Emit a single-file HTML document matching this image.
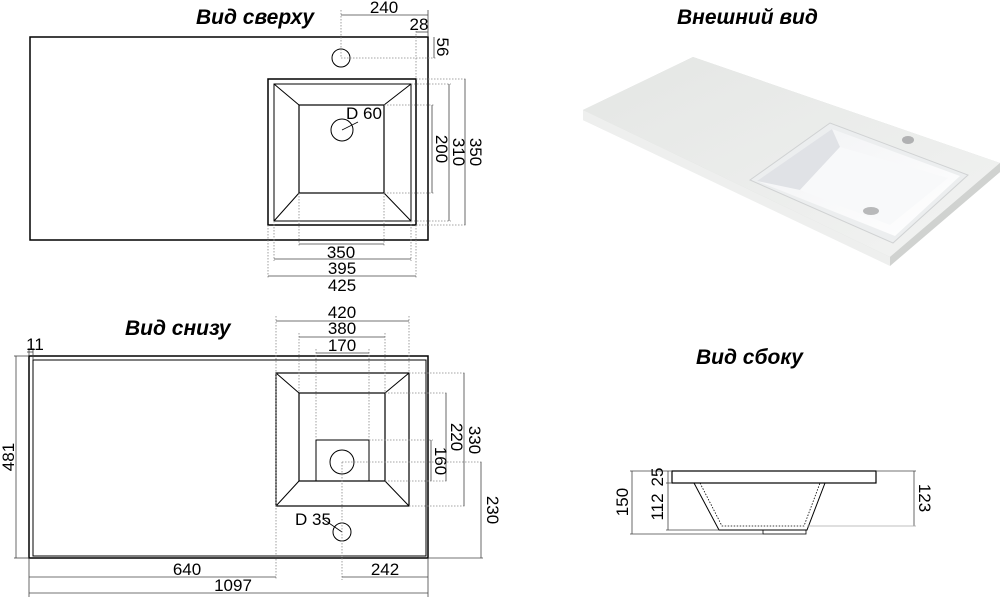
<!DOCTYPE html>
<html><head><meta charset="utf-8"><style>
html,body{margin:0;padding:0;background:#fff;}
svg{display:block;}
text{font-family:"Liberation Sans",sans-serif;fill:#000;}
.t{font-weight:bold;font-style:italic;font-size:21px;}
.d{font-size:17px;}
</style></head><body>
<svg width="1000" height="598" viewBox="0 0 1000 598" xmlns="http://www.w3.org/2000/svg">
<defs>
<linearGradient id="slab" x1="0" y1="0" x2="1" y2="1"><stop offset="0" stop-color="#e4e6e4"/><stop offset="1" stop-color="#f2f3f2"/></linearGradient>
<linearGradient id="bowl" x1="0" y1="0" x2="1" y2="1"><stop offset="0" stop-color="#f1f2f4"/><stop offset="1" stop-color="#ffffff"/></linearGradient>
</defs>
<text class="t" x="196" y="24">Вид сверху</text>
<text class="t" x="677" y="24">Внешний вид</text>
<text class="t" x="125" y="335">Вид снизу</text>
<text class="t" x="696" y="364">Вид сбоку</text>

<g stroke="#000" fill="none">
<rect x="30" y="37" width="398" height="203" stroke-width="1.5"/>
<rect x="268" y="79" width="148" height="146" stroke-width="1.5"/>
<rect x="274" y="84" width="137" height="137" stroke-width="1"/>
<rect x="299" y="105" width="85" height="88" stroke-width="1.2"/>
<line x1="274" y1="84" x2="299" y2="105"/><line x1="411" y1="84" x2="384" y2="105"/>
<line x1="274" y1="221" x2="299" y2="193"/><line x1="411" y1="221" x2="384" y2="193"/>
<circle cx="341" cy="58" r="9" stroke-width="1"/>
<circle cx="342" cy="130" r="11" stroke-width="1"/>
<line x1="342" y1="130" x2="358" y2="122" stroke-width="0.8"/>
</g>
<g stroke="#888" stroke-width="0.8" fill="none" stroke-dasharray="1.5,1.5">
<line x1="341" y1="10" x2="341" y2="58"/><line x1="341" y1="58" x2="436" y2="58"/>
<line x1="416" y1="28" x2="416" y2="79"/>
<line x1="384" y1="105" x2="434" y2="105"/><line x1="384" y1="193" x2="434" y2="193"/>
<line x1="411" y1="84" x2="451" y2="84"/><line x1="411" y1="221" x2="451" y2="221"/>
<line x1="416" y1="79" x2="467" y2="79"/><line x1="416" y1="225" x2="467" y2="225"/>
<line x1="299" y1="193" x2="299" y2="246"/><line x1="384" y1="193" x2="384" y2="246"/>
<line x1="274" y1="221" x2="274" y2="261"/><line x1="411" y1="221" x2="411" y2="261"/>
<line x1="268" y1="225" x2="268" y2="278"/><line x1="416" y1="225" x2="416" y2="278"/>
</g>
<g stroke="#444" stroke-width="0.8" fill="none">
<line x1="341" y1="15" x2="428" y2="15"/><line x1="428" y1="10" x2="428" y2="37"/>
<line x1="416" y1="32" x2="428" y2="32"/>
<line x1="434" y1="37" x2="434" y2="58"/>
<line x1="432" y1="105" x2="432" y2="193"/>
<line x1="449" y1="84" x2="449" y2="221"/>
<line x1="465" y1="79" x2="465" y2="225"/>
<line x1="299" y1="244" x2="384" y2="244"/>
<line x1="274" y1="259" x2="411" y2="259"/>
<line x1="268" y1="276" x2="416" y2="276"/>
</g>
<text class="d" x="384" y="13" text-anchor="middle">240</text>
<text class="d" x="419" y="30" text-anchor="middle">28</text>
<text class="d" x="346" y="119">D 60</text>
<text class="d" x="341" y="258" text-anchor="middle">350</text>
<text class="d" x="342" y="274" text-anchor="middle">395</text>
<text class="d" x="342" y="291" text-anchor="middle">425</text>
<text class="d" transform="translate(437,47) rotate(90)" text-anchor="middle">56</text>
<text class="d" transform="translate(436,149) rotate(90)" text-anchor="middle">200</text>
<text class="d" transform="translate(453,152) rotate(90)" text-anchor="middle">310</text>
<text class="d" transform="translate(470,152) rotate(90)" text-anchor="middle">350</text>

<g stroke="#000" fill="none">
<rect x="29" y="356" width="399" height="202" stroke-width="1.5"/>
<rect x="33" y="360" width="393" height="196" stroke-width="1"/>
<rect x="276" y="373" width="133" height="133" stroke-width="1.2"/>
<rect x="299" y="393" width="86" height="88" stroke-width="1.2"/>
<line x1="276" y1="373" x2="299" y2="393"/><line x1="409" y1="373" x2="385" y2="393"/>
<line x1="276" y1="506" x2="299" y2="481"/><line x1="409" y1="506" x2="385" y2="481"/>
<rect x="316" y="440" width="53" height="41" stroke-width="1"/>
<circle cx="342" cy="462" r="12" stroke-width="1"/>
<circle cx="342" cy="532" r="9" stroke-width="1"/>
<line x1="323" y1="519" x2="342" y2="532" stroke-width="0.8"/>
</g>
<g stroke="#888" stroke-width="0.8" fill="none" stroke-dasharray="1.5,1.5">
<line x1="276" y1="316" x2="276" y2="580"/><line x1="409" y1="316" x2="409" y2="373"/>
<line x1="299" y1="333" x2="299" y2="393"/><line x1="385" y1="333" x2="385" y2="393"/>
<line x1="316" y1="349" x2="316" y2="440"/><line x1="369" y1="349" x2="369" y2="440"/>
<line x1="409" y1="373" x2="466" y2="373"/><line x1="409" y1="506" x2="466" y2="506"/>
<line x1="385" y1="393" x2="448" y2="393"/><line x1="385" y1="481" x2="448" y2="481"/>
<line x1="369" y1="440" x2="433" y2="440"/>
<line x1="342" y1="462" x2="483" y2="462"/><line x1="342" y1="462" x2="342" y2="580"/>
</g>
<g stroke="#444" stroke-width="0.8" fill="none">
<line x1="276" y1="321" x2="409" y2="321"/>
<line x1="299" y1="337" x2="385" y2="337"/>
<line x1="316" y1="353" x2="369" y2="353"/>
<line x1="464" y1="373" x2="464" y2="506"/>
<line x1="446" y1="393" x2="446" y2="481"/>
<line x1="431" y1="440" x2="431" y2="481"/>
<line x1="481" y1="462" x2="481" y2="558"/><line x1="428" y1="558" x2="483" y2="558"/>
<line x1="29" y1="577" x2="276" y2="577"/>
<line x1="342" y1="577" x2="428" y2="577"/>
<line x1="29" y1="593" x2="428" y2="593"/>
<line x1="29" y1="558" x2="29" y2="597"/><line x1="428" y1="558" x2="428" y2="597"/>
<line x1="16" y1="356" x2="16" y2="558"/><line x1="14" y1="356" x2="29" y2="356"/><line x1="14" y1="558" x2="29" y2="558"/>
<line x1="27" y1="352" x2="33" y2="352"/><line x1="29" y1="348" x2="29" y2="356"/><line x1="33" y1="348" x2="33" y2="360"/>
</g>
<text class="d" x="342" y="318" text-anchor="middle">420</text>
<text class="d" x="342" y="334" text-anchor="middle">380</text>
<text class="d" x="342" y="351" text-anchor="middle">170</text>
<text class="d" x="295" y="525">D 35</text>
<text class="d" x="187" y="575" text-anchor="middle">640</text>
<text class="d" x="385" y="575" text-anchor="middle">242</text>
<text class="d" x="233" y="591" text-anchor="middle">1097</text>
<text class="d" x="35" y="350" text-anchor="middle">11</text>
<text class="d" transform="translate(14,457) rotate(-90)" text-anchor="middle">481</text>
<text class="d" transform="translate(469,440) rotate(90)" text-anchor="middle">330</text>
<text class="d" transform="translate(451,437) rotate(90)" text-anchor="middle">220</text>
<text class="d" transform="translate(435,461) rotate(90)" text-anchor="middle">160</text>
<text class="d" transform="translate(487,510) rotate(90)" text-anchor="middle">230</text>

<g stroke="#000" fill="none">
<rect x="672" y="471" width="204" height="12" stroke-width="1.2"/>
<polyline points="694,483 719,530 807,530 825,483" stroke-width="1"/>
<polyline points="700,483 722,526 804,526 820,483" stroke-width="0.8" stroke-dasharray="1.5,1.5"/>
<rect x="763" y="530" width="43" height="4" stroke-width="0.8"/>
</g>
<g stroke="#444" stroke-width="0.8" fill="none">
<line x1="632" y1="471" x2="632" y2="534"/>
<line x1="630" y1="471" x2="672" y2="471"/><line x1="630" y1="534" x2="763" y2="534"/>
<line x1="668" y1="471" x2="668" y2="530"/><line x1="666" y1="483" x2="672" y2="483"/><line x1="666" y1="530" x2="719" y2="530"/>
<line x1="914" y1="471" x2="914" y2="526"/><line x1="876" y1="471" x2="916" y2="471"/><line x1="807" y1="526" x2="916" y2="526" stroke="#aaa"/>
</g>
<text class="d" transform="translate(628,502) rotate(-90)" text-anchor="middle">150</text>
<text class="d" transform="translate(663,477) rotate(-90)" text-anchor="middle">25</text>
<text class="d" transform="translate(663,507) rotate(-90)" text-anchor="middle">112</text>
<text class="d" transform="translate(919,498) rotate(90)" text-anchor="middle">123</text>

<polygon points="583,110 693,57 1000,163 1000,172 890,265 583,120" fill="#d5d7d5"/>
<polygon points="583,110 693,57 1000,163 890,257" fill="url(#slab)"/>
<polygon points="583,110 890,257 890,266 583,120" fill="#eeefee"/>
<polygon points="890,257 1000,163 1000,172 890,266" fill="#d0d2d0"/>
<polygon points="750,180 830,123 968,175 893,243" fill="#eceeef" stroke="#d0d2d3" stroke-width="1"/>
<polygon points="757,181 832,129 960,176 895,236" fill="url(#bowl)"/>
<polygon points="757,181 832,129 840,147 800,190" fill="#e0e2e6"/>
<polygon points="800,190 840,147 948,178 890,225" fill="#f8f9fa"/>
<ellipse cx="871" cy="211" rx="8" ry="4" fill="#b8b9ba"/>
<ellipse cx="908" cy="140" rx="6" ry="4" fill="#b0b1b2"/>
</svg>
</body></html>
